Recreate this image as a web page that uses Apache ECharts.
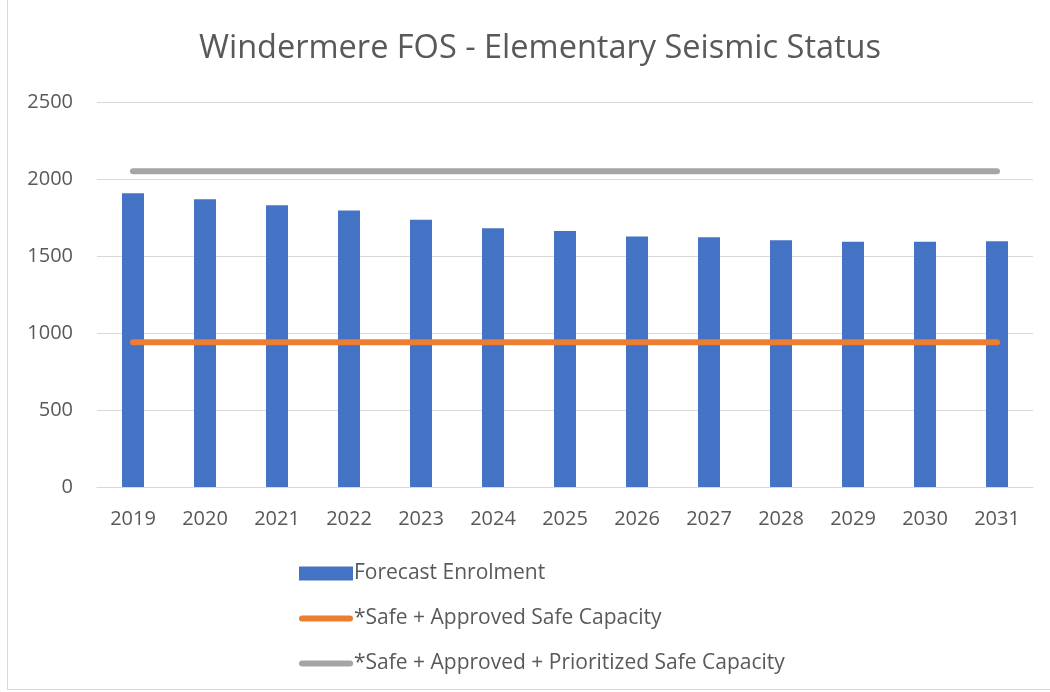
<!DOCTYPE html>
<html>
<head>
<meta charset="utf-8">
<script src="https://cdn.jsdelivr.net/npm/echarts@6/dist/echarts.min.js"></script>
<style>
  html, body { margin: 0; padding: 0; background: #fff; }
  #chart { width: 1050px; height: 692px; }
  #frame {
    position: absolute; left: 7px; top: -1px; width: 1046px; height: 691px;
    border: 1px solid #d9d9d9; pointer-events: none; box-sizing: border-box;
  }
</style>
</head>
<body>
<div id="chart"></div>
<div id="frame"></div>
<script>
  const years = ['2019', '2020', '2021', '2022', '2023', '2024', '2025', '2026', '2027', '2028', '2029', '2030', '2031'];
  const forecastEnrolment = [1908, 1868, 1830, 1795, 1735, 1681, 1663, 1626, 1622, 1603, 1592, 1592, 1596];
  const safeCapacity = [940, 940, 940, 940, 940, 940, 940, 940, 940, 940, 940, 940, 940];
  const prioritizedCapacity = [2050, 2050, 2050, 2050, 2050, 2050, 2050, 2050, 2050, 2050, 2050, 2050, 2050];

  const textColor = '#595959';
  const fontFamily = '"Open Sans", sans-serif';
  // thin rounded bar used as legend icon for the two lines
  const lineIcon = 'path://M3,0 L51,0 A3,3 0 0 1 51,6 L3,6 A3,3 0 0 1 3,0 Z';

  const chart = echarts.init(document.getElementById('chart'));
  const options = {
    backgroundColor: '#fff',
    animation: false,
    textStyle: { fontFamily: fontFamily },
    title: {
      text: 'Windermere FOS - Elementary Seismic Status',
      left: 535,
      textAlign: 'center',
      top: 27,
      textStyle: { color: textColor, fontSize: 32.5, fontWeight: 'normal', fontFamily: fontFamily }
    },
    grid: {
      left: 97,
      right: 17,
      top: 102,
      bottom: 205
    },
    legend: {
      orient: 'vertical',
      left: 294,
      top: 558,
      height: 200,
      itemWidth: 54,
      itemHeight: 14,
      itemGap: 24,
      textStyle: { color: textColor, fontSize: 21, fontFamily: fontFamily, padding: [0, 0, 0, -4] },
      data: [
        { name: 'Forecast Enrolment', icon: 'rect' },
        { name: '*Safe + Approved Safe Capacity', icon: lineIcon },
        { name: '*Safe + Approved + Prioritized Safe Capacity', icon: lineIcon }
      ]
    },
    xAxis: [
      {
        type: 'category',
        data: years,
        axisLine: { lineStyle: { color: '#d9d9d9' } },
        axisTick: { show: false },
        axisLabel: { color: textColor, fontSize: 20, margin: 22 }
      }
    ],
    yAxis: [
      {
        type: 'value',
        min: 0,
        max: 2500,
        interval: 500,
        axisLine: { show: false },
        axisTick: { show: false },
        axisLabel: { color: textColor, fontSize: 20, margin: 24, formatter: (v) => String(v) },
        splitLine: { lineStyle: { color: '#d9d9d9', width: 1 } }
      }
    ],
    series: [
      {
        name: 'Forecast Enrolment',
        type: 'bar',
        data: forecastEnrolment,
        barWidth: 22,
        itemStyle: { color: '#4472c4' }
      },
      {
        name: '*Safe + Approved Safe Capacity',
        type: 'line',
        data: safeCapacity,
        symbol: 'none',
        itemStyle: { color: '#ed7d31' },
        lineStyle: { color: '#ed7d31', width: 6, cap: 'round' }
      },
      {
        name: '*Safe + Approved + Prioritized Safe Capacity',
        type: 'line',
        data: prioritizedCapacity,
        symbol: 'none',
        itemStyle: { color: '#a5a5a5' },
        lineStyle: { color: '#a5a5a5', width: 6, cap: 'round' }
      }
    ]
  };
  chart.setOption(options);
</script>
</body>
</html>
